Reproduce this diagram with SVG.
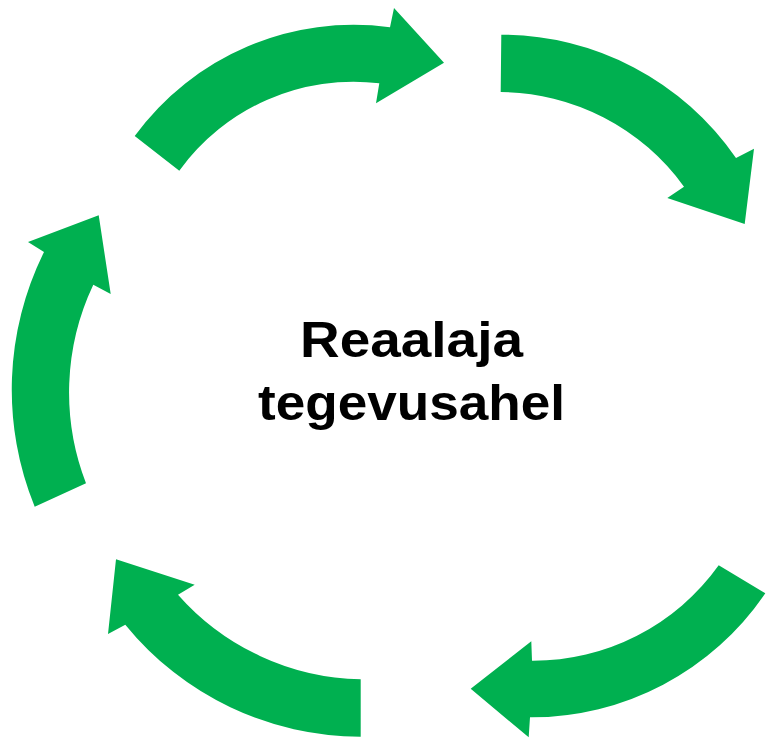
<svg xmlns="http://www.w3.org/2000/svg" width="767" height="738" viewBox="0 0 767 738">
<style>
.arr{fill:#00B050;stroke:none}
.lbl{font-family:"Liberation Sans",Arial,sans-serif;font-weight:bold;font-size:50px;fill:#000}
</style>
<rect width="767" height="738" fill="#fff"/>
<g id="connectors">
<path id="arrow-top" class="arr" d="M134.7,136 A271,271 0 0 1 390,27.3 L394,8 L444,62.7 L376,103.3 L379.3,83.3 A215,215 0 0 0 179.3,170.7 Z"/>
<path id="arrow-right" class="arr" d="M501.3,34.7 A285,285 0 0 1 736,158 L754,148.7 L744.7,224 L667.3,198 L684,186.7 A228,228 0 0 0 500.7,92 Z"/>
<path id="arrow-bottom-right" class="arr" d="M718.7,565.3 L765.3,593.3 A283,283 0 0 1 530,717.3 L528.7,737.3 L470.7,688.7 L531.3,641.3 L532,660.7 A228,228 0 0 0 718.7,565.3 Z"/>
<path id="arrow-bottom-left" class="arr" d="M360.7,736.7 A303,303 0 0 1 125.3,624.7 L108,634 L116,559.3 L194.7,584.7 L178,594.7 A250,250 0 0 0 360.7,679.3 Z"/>
<path id="arrow-left" class="arr" d="M34.7,506.7 A310,310 0 0 1 44,252 L28,242 L98.7,215.3 L110.7,294 L93.3,284.7 A252,252 0 0 0 86,483.3 Z"/>
</g>
<g id="center-label">
<text class="lbl" x="300" y="357" textLength="223" lengthAdjust="spacingAndGlyphs">Reaalaja</text>
<text class="lbl" x="258" y="420" textLength="307" lengthAdjust="spacingAndGlyphs">tegevusahel</text>
</g>
</svg>
